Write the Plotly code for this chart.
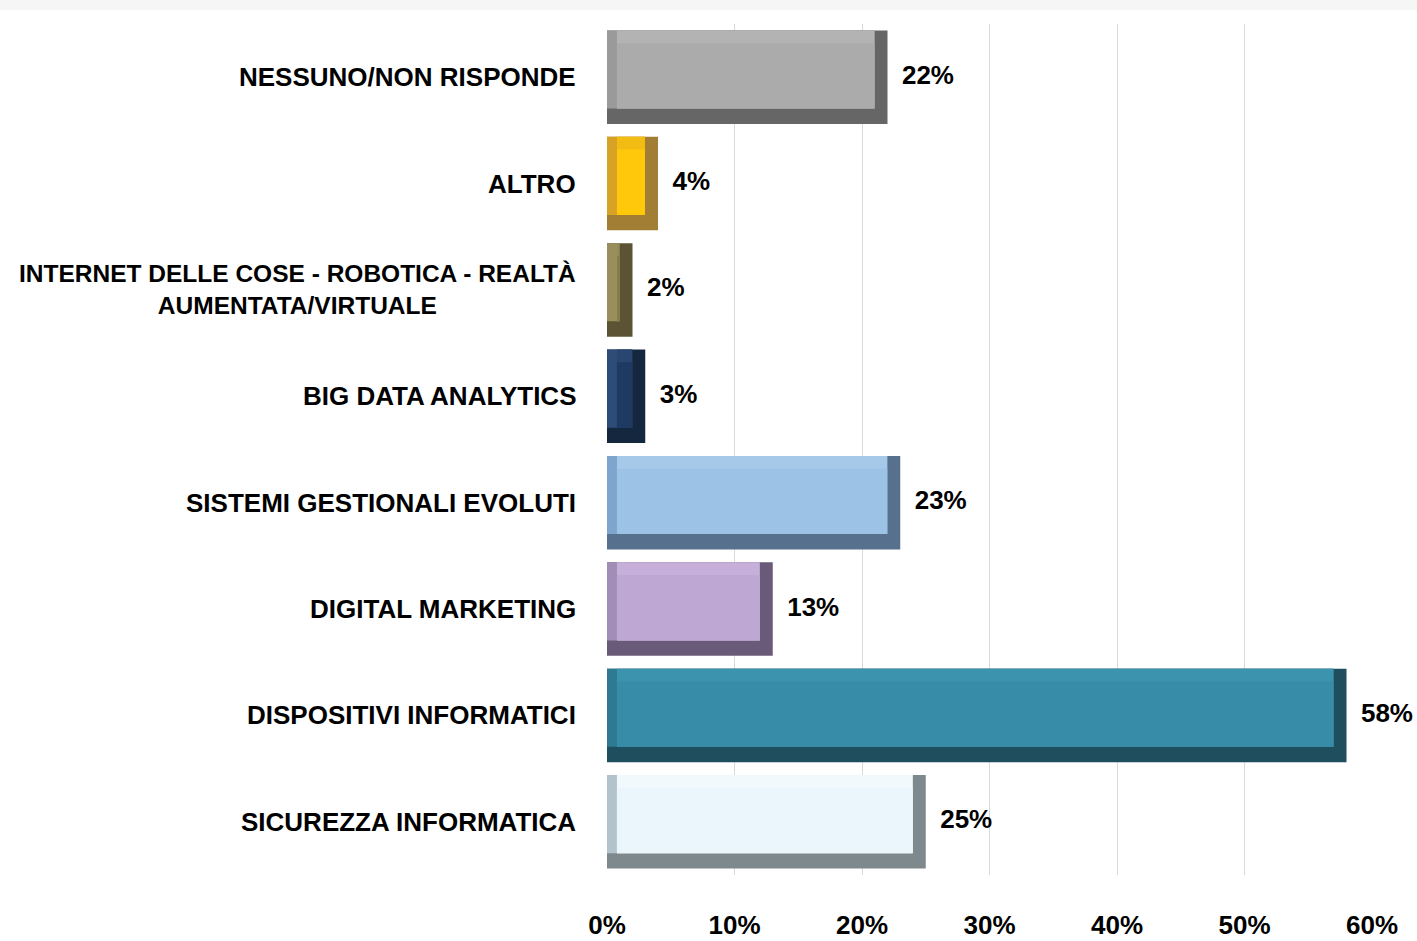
import plotly.graph_objects as go

categories = [
    "NESSUNO/NON RISPONDE",
    "ALTRO",
    "INTERNET DELLE COSE - ROBOTICA - REALTÀ<br>AUMENTATA/VIRTUALE",
    "BIG DATA ANALYTICS",
    "SISTEMI GESTIONALI EVOLUTI",
    "DIGITAL MARKETING",
    "DISPOSITIVI INFORMATICI",
    "SICUREZZA INFORMATICA",
]
values = [0.22, 0.04, 0.02, 0.03, 0.23, 0.13, 0.58, 0.25]
labels = ["22%", "4%", "2%", "3%", "23%", "13%", "58%", "25%"]
x_ticks = [0, 0.1, 0.2, 0.3, 0.4, 0.5, 0.6]
x_tick_labels = ["0%", "10%", "20%", "30%", "40%", "50%", "60%"]

face_colors = ["#ABABAB", "#FFC80A", "#877C4C", "#1E3A62", "#9CC2E6", "#BFA7D3", "#378DA8", "#EAF5FC"]
top_colors = ["#B3B3B3", "#F2BC12", "#958A5A", "#28466F", "#A6C9EA", "#C6AFD8", "#3B93AD", "#F2F9FD"]
left_colors = ["#9A9A9A", "#D6A326", "#9A8F5C", "#2D4C78", "#7EA5CE", "#A18DB6", "#2E7A92", "#B3C3CC"]
dark_colors = ["#666666", "#A27E34", "#5B5333", "#15263F", "#57708E", "#6A5A79", "#1F4E5E", "#7E898E"]

FONT = "Liberation Sans, Arial, sans-serif"
W = 0.88          # bar thickness (category units)
DYB = 0.145       # bottom bevel
DYT = 0.12        # top bevel
DXL = 0.0078      # left bevel
DXR = 0.0102      # right bevel

n = len(categories)
fig = go.Figure()

# dark (bottom / right bevel)
fig.add_trace(go.Bar(
    y=categories, x=values, orientation="h", width=[W] * n,
    marker=dict(color=dark_colors, line=dict(width=0)), hoverinfo="skip",
))
# left bevel
fig.add_trace(go.Bar(
    y=categories, x=[v - DXR for v in values], orientation="h",
    width=[W - DYB] * n, offset=[-W / 2 + DYB] * n,
    marker=dict(color=left_colors, line=dict(width=0)), hoverinfo="skip",
))
# top bevel
fig.add_trace(go.Bar(
    y=categories, x=[v - DXR - DXL for v in values], base=[DXL] * n, orientation="h",
    width=[W - DYB] * n, offset=[-W / 2 + DYB] * n,
    marker=dict(color=top_colors, line=dict(width=0)), hoverinfo="skip",
))
# face
fig.add_trace(go.Bar(
    y=categories, x=[v - DXR - DXL for v in values], base=[DXL] * n, orientation="h",
    width=[W - DYB - DYT] * n, offset=[-W / 2 + DYB] * n,
    marker=dict(color=face_colors, line=dict(width=0)), hoverinfo="skip",
))
# value labels
fig.add_trace(go.Scatter(
    y=categories, x=values, mode="text", text=["\u00a0\u00a0" + t for t in labels],
    textposition="middle right", cliponaxis=False,
    textfont=dict(family=FONT, size=26, color="#000000", weight="bold"),
    hoverinfo="skip",
))

# category labels as annotations (centered multi-line)
for c in categories:
    size = 24.5 if "<br>" in c else 26
    fig.add_annotation(
        x=0, y=c, xref="x", yref="y", text=c, showarrow=False,
        xanchor="right", yanchor="middle", xshift=-29, align="center",
        font=dict(family=FONT, size=size, color="#000000", weight="bold"),
    )

# light strip at the very top of the page
fig.add_shape(type="rect", xref="paper", yref="paper",
              x0=-1, x1=2, y0=1 + 14 / 851, y1=1 + 24 / 851,
              fillcolor="#F6F6F6", line=dict(width=0), layer="below")

fig.update_layout(
    width=1417, height=941,
    margin=dict(l=607, r=45, t=24, b=66),
    barmode="overlay",
    showlegend=False,
    plot_bgcolor="#FFFFFF", paper_bgcolor="#FFFFFF",
    xaxis=dict(
        range=[0, 0.6], tickvals=x_ticks, ticktext=x_tick_labels,
        showgrid=True, gridcolor="#D9D9D9", gridwidth=1, automargin=False,
        zeroline=False, showline=False, ticks="", ticklabelstandoff=32,
        tickfont=dict(family=FONT, size=26, color="#000000", weight="bold"),
    ),
    yaxis=dict(
        categoryorder="array", categoryarray=categories[::-1],
        range=[-0.5, n - 0.5], showticklabels=False, showgrid=False,
        zeroline=False, showline=False, ticks="", automargin=False,
    ),
)

fig.write_html(
    "out.html",
    config={"displayModeBar": False},
    post_script="document.body.style.margin='0';document.body.style.overflow='hidden';",
)
